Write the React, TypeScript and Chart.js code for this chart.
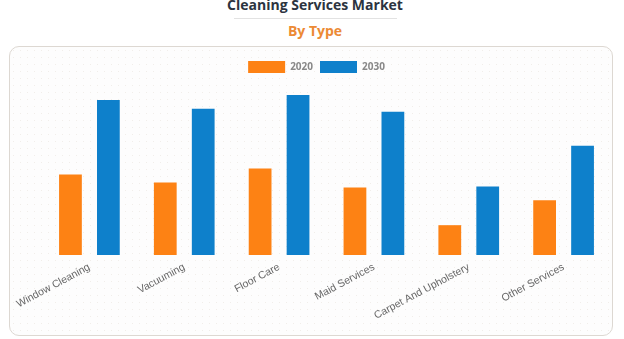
import React, { useEffect, useRef } from "react";
import { Chart, registerables } from "chart.js";

Chart.register(...registerables);

const categories = [
  "Window Cleaning",
  "Vacuuming",
  "Floor Care",
  "Maid Services",
  "Carpet And Upholstery",
  "Other Services",
];
const series2020 = [8.1, 7.3, 8.7, 6.8, 3.0, 5.5];
const series2030 = [15.6, 14.7, 16.1, 14.4, 6.9, 11.0];
const seriesLabels = ["2020", "2030"];
const seriesColors = ["#fd8214", "#0e80cb"];

export default function App() {
  const ref = useRef<HTMLCanvasElement | null>(null);

  useEffect(() => {
    if (!ref.current) return;
    const chart = new Chart(ref.current, {
      type: "bar",
      data: {
        labels: categories,
        datasets: [
          { label: seriesLabels[0], data: series2020, backgroundColor: seriesColors[0] },
          { label: seriesLabels[1], data: series2030, backgroundColor: seriesColors[1] },
        ],
      },
      options: {
        animation: false,
        responsive: false,
        maintainAspectRatio: false,
        layout: { padding: { top: 8, bottom: 16, left: 11, right: 0 } },
        datasets: { bar: { categoryPercentage: 0.8, barPercentage: 0.6 } },
        plugins: {
          legend: {
            display: true,
            labels: {
              boxWidth: 37,
              boxHeight: 12,
              padding: 7,
              color: "#888",
              font: { family: "'Open Sans', Arial, sans-serif", size: 10, weight: "bold" },
            },
          },
          tooltip: { enabled: false },
        },
        scales: {
          x: {
            grid: { display: false },
            border: { display: false },
            afterFit: (s: any) => {
              s.paddingLeft = 33;
              s.paddingRight = 2;
            },
            ticks: {
              color: "#666",
              maxRotation: 28,
              minRotation: 28,
              padding: -2,
              font: { family: "'Liberation Sans', Arial, sans-serif", size: 10.5 },
            },
          },
          y: {
            display: false,
            min: 0,
            max: 17.3,
          },
        },
      },
    });
    return () => chart.destroy();
  }, []);

  return (
    <div style={{ position: "fixed", left: 0, top: 0, width: 624, height: 339, background: "#fff", overflow: "hidden" }}>
      <div
        style={{
          position: "absolute",
          left: 0,
          width: 630,
          top: -5,
          textAlign: "center",
          fontFamily: "'Open Sans', sans-serif",
          fontWeight: 700,
          fontSize: 14,
          color: "#2c3440",
        }}
      >
        Cleaning Services Market
      </div>
      <div style={{ position: "absolute", left: 234, width: 163, top: 18, height: 1, background: "#e2e2e2" }} />
      <div
        style={{
          position: "absolute",
          left: 0,
          width: 630,
          top: 21,
          textAlign: "center",
          fontFamily: "'Open Sans', sans-serif",
          fontWeight: 700,
          fontSize: 14,
          color: "#ec8a35",
        }}
      >
        By Type
      </div>
      <div
        style={{
          position: "absolute",
          left: 9,
          top: 46,
          width: 602,
          height: 288,
          border: "1px solid #ddd8d2",
          borderRadius: 10,
          backgroundColor: "#fdfdfd",
          backgroundImage: "radial-gradient(#f1eeea 0.5px, transparent 0.7px)",
          backgroundSize: "7px 7px",
        }}
      />
      <canvas ref={ref} width={604} height={290} style={{ position: "absolute", left: 9, top: 46, width: 604, height: 290 }} />
    </div>
  );
}
